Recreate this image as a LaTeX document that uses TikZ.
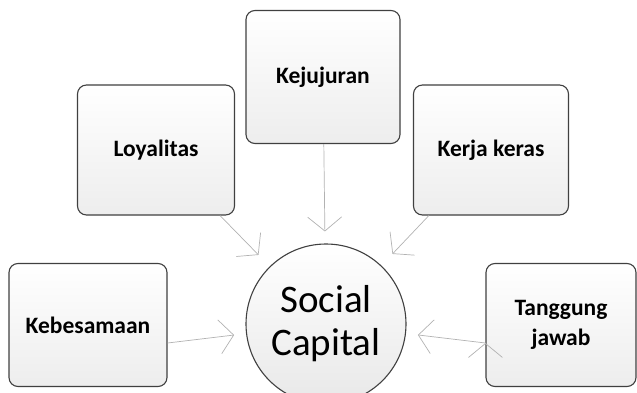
\documentclass[tikz,border=0pt]{standalone}
\usepackage{fontspec}
\setmainfont{Carlito}
\usetikzlibrary{arrows.meta}

\begin{document}
\begin{tikzpicture}[x=1pt,y=-1pt]
  \useasboundingbox (0,0) rectangle (637,393);

  \begin{scope}[every node/.style={draw=black!75,line width=1.1pt,rounded corners=9pt,
      top color=white,bottom color=black!7,align=center,inner sep=0pt,
      font=\bfseries\fontsize{23.5}{30}\selectfont}]
    \node[minimum width=154pt,minimum height=133pt] (kej) at (323,77) {Kejujuran};
    \node[minimum width=157pt,minimum height=130pt] (loy) at (156,150) {Loyalitas};
    \node[minimum width=155pt,minimum height=130pt] (ker) at (491,150) {Kerja keras};
    \node[minimum width=158pt,minimum height=123pt] (keb) at (88,325) {Kebesamaan};
    \node[minimum width=150pt,minimum height=123pt] (tgj) at (561,325) {Tanggung\\jawab};
  \end{scope}

  \node[circle,draw=black!75,line width=1.1pt,top color=white,bottom color=black!9,
    minimum size=160pt,inner sep=0pt,align=center,
    font=\fontsize{39}{43}\selectfont] (sc) at (326,324) {Social\\Capital};

  \draw[black!30,line width=0.7pt,-{Straight Barb[length=14pt,width=34pt]}]
    (kej) edge[shorten >=12pt] (sc)
    (loy) edge[shorten >=16pt] (sc)
    (ker) edge[shorten >=16pt] (sc)
    ([yshift=-18pt]keb.east) edge[shorten >=12pt] (sc)
    ([yshift=-18pt]tgj.west) edge[shorten >=12pt] (sc);
\end{tikzpicture}
\end{document}
